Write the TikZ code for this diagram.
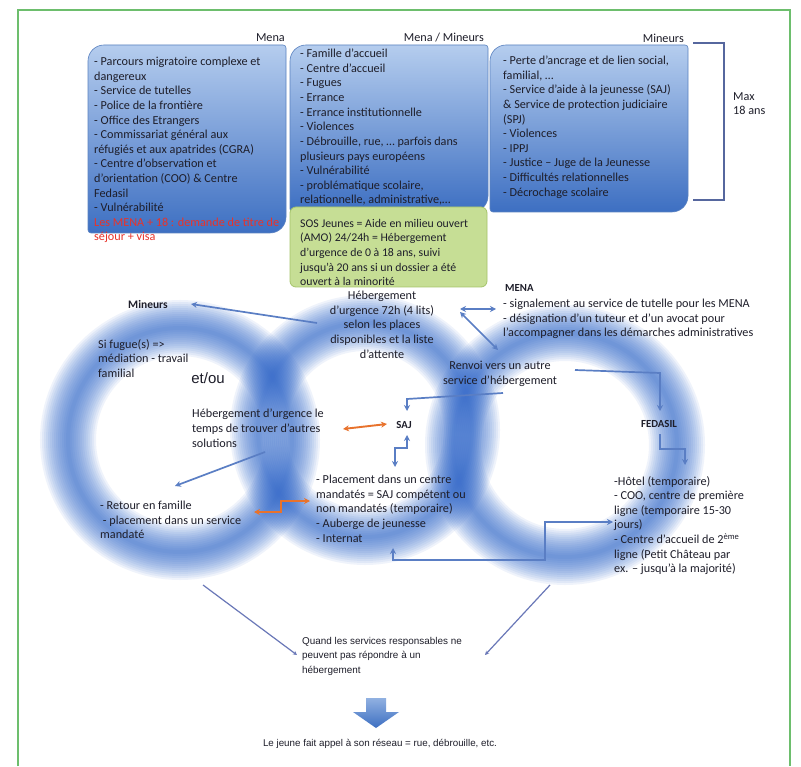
\documentclass[tikz,border=0pt]{standalone}
\usepackage{fontspec}
\setmainfont{Carlito}
\newfontfamily\arialf{Liberation Sans}
\usetikzlibrary{arrows.meta}
\definecolor{framec}{HTML}{6DBE6D}
\definecolor{ringblue}{HTML}{2F66CC}
\definecolor{boxtop}{HTML}{B5CDEE}
\definecolor{boxbot}{HTML}{3D6FC2}
\definecolor{boxline}{HTML}{5A82C0}
\definecolor{greenfill}{HTML}{C6DE95}
\definecolor{greenline}{HTML}{A5C46A}
\definecolor{arrblue}{HTML}{5A7EC4}
\definecolor{arrorange}{HTML}{E8722C}
\definecolor{txtc}{HTML}{1E1E2A}
\definecolor{redtxt}{HTML}{E8332A}
\definecolor{brack}{HTML}{56679E}
\definecolor{thinarr}{HTML}{6A78B8}
\newcommand\myring[3]{%
  \foreach \w in {56,52,...,4}{%
    \draw[line width=\w pt, draw=ringblue, opacity=0.075] (#1,#2) circle[radius=#3pt];}}
\newcommand\dbox[5]{%
  \path[top color=boxtop,bottom color=boxbot,draw=boxline,line width=0.6pt]
    (#1,{(#2+#4)/2}) [rounded corners=16pt] -- (#1,#2) [rounded corners=3pt] -- (#3,#2) [rounded corners=16pt]
    -- (#3,#4) [rounded corners=3pt] -- (#1,#4) -- cycle;
  \coordinate (#5) at ({(#1+#3)/2},{(#2+#4)/2});}
\begin{document}
\begin{tikzpicture}[x=1pt,y=-1pt,
  txt/.style={font=\fontsize{12.2}{14.6}\selectfont, text=txtc, inner sep=0pt, align=left, anchor=north west},
  ctxt/.style={txt, align=center, anchor=north},
  lbl/.style={font=\fontsize{10.8}{14}\selectfont\bfseries, text=txtc, inner sep=0pt},
  hdr/.style={font=\fontsize{12.2}{14}\selectfont, text=txtc, inner sep=0pt, anchor=east},
  bluearr/.style={draw=arrblue, line width=1.7pt, -{Stealth[length=6pt,width=6pt]}},
  bluedbl/.style={draw=arrblue, line width=1.7pt, {Stealth[length=6pt,width=6pt]}-{Stealth[length=6pt,width=6pt]}},
  orangedbl/.style={draw=arrorange, line width=1.9pt, {Stealth[length=6pt,width=6pt]}-{Stealth[length=6pt,width=6pt]}},
  thinarrow/.style={draw=thinarr, line width=1.2pt, -{Stealth[length=4pt,width=4pt]}},
  bigarrow/.style={top color=boxtop!70!boxbot, bottom color=boxbot, draw=none}
]
\useasboundingbox (0,0) rectangle (801,767);
\fill[white] (0,0) rectangle (801,767);
\draw[framec, line width=1.5pt] (18,766) -- (18,10) -- (790,10) -- (790,766);

% rings
\myring{180}{440}{112}
\myring{365}{430}{107}
\myring{565}{445}{112}

% header labels
\node[hdr] (hmena) at (285,38) {Mena};
\node[hdr] (hmm) at (484,38) {Mena / Mineurs};
\node[hdr] (hmin) at (684,38) {Mineurs};

% boxes
\dbox{88}{45}{286}{233}{b1}
\dbox{290}{45}{488}{212}{b2}
\dbox{490}{45}{688}{212}{b3}

\node[txt] (t1) at (94,57) {- Parcours migratoire complexe et\\ dangereux\\ - Service de tutelles\\ - Police de la frontière\\ - Office des Etrangers\\ - Commissariat général aux\\ réfugiés et aux apatrides (CGRA)\\ - Centre d'observation et\\ d'orientation (COO) \& Centre\\ Fedasil\\ - Vulnérabilité\\ \textcolor{redtxt}{Les MENA + 18 : demande de titre de}\\ \textcolor{redtxt}{séjour + visa}};
\node[txt] (t2) at (300,49) {- Famille d'accueil\\ - Centre d'accueil\\ - Fugues\\ - Errance\\ - Errance institutionnelle\\ - Violences\\ - Débrouille, rue, … parfois dans\\ plusieurs pays européens\\ - Vulnérabilité\\ - problématique scolaire,\\ relationnelle, administrative,…};
\node[txt] (t3) at (503,56) {- Perte d'ancrage et de lien social,\\ familial, …\\ - Service d'aide à la jeunesse (SAJ)\\ \& Service de protection judiciaire\\ (SPJ)\\ - Violences\\ - IPPJ\\ - Justice – Juge de la Jeunesse\\ - Difficultés relationnelles\\ - Décrochage scolaire};

% bracket
\coordinate (br1) at (693,43); \coordinate (br2) at (724,43);
\coordinate (br3) at (724,200); \coordinate (br4) at (693,200);
\draw[brack, line width=2pt] (br1) -- (br2) -- (br3) -- (br4);
\node[txt] (max) at (733,92) {Max\\ 18 ans};

% green box
\draw[fill=greenfill, draw=greenline, line width=0.8pt, rounded corners=6pt] (290,207) rectangle (487,287);
\node[txt, font=\fontsize{11.8}{14.6}\selectfont] (sos) at (300,219) {SOS Jeunes = Aide en milieu ouvert\\ (AMO) 24/24h = Hébergement\\ d'urgence de 0 à 18 ans, suivi\\ jusqu'à 20 ans si un dossier a été\\ ouvert à la minorité};

% central texts
\node[ctxt] (heb) at (382,291) {Hébergement\\ d'urgence 72h (4 lits)\\ selon les places\\ disponibles et la liste\\ d'attente};
\node[lbl, font=\fontsize{11.5}{14}\selectfont\bfseries] (mineurs) at (148,305) {Mineurs};
\node[txt] (fugue) at (98,339) {Si fugue(s) =>\\ médiation - travail\\ familial};
\node[inner sep=0pt, font=\arialf\fontsize{15}{17}\selectfont, text=txtc] (etou) at (208,378) {et/ou};
\node[txt] (hebu) at (192,409) {Hébergement d'urgence le\\ temps de trouver d'autres\\ solutions};
\node[lbl] (saj) at (404,425) {SAJ};
\node[lbl, anchor=west] (mena) at (505,288) {MENA};
\node[txt] (menal) at (503,299) {- signalement au service de tutelle pour les MENA\\ - désignation d'un tuteur et d'un avocat pour\\ l'accompagner dans les démarches administratives};
\node[ctxt] (renvoi) at (500,361) {Renvoi vers un autre\\ service d'hébergement};
\node[lbl] (fedasil) at (659,424) {FEDASIL};
\node[txt] (fedl) at (614,476) {-Hôtel (temporaire)\\ - COO, centre de première\\ ligne (temporaire 15-30\\ jours)\\ - Centre d'accueil de 2\textsuperscript{ème}\\ ligne (Petit Château par\\ ex. – jusqu'à la majorité)};
\node[txt] (plac) at (316,475) {- Placement dans un centre\\ mandatés = SAJ compétent ou\\ non mandatés (temporaire)\\ - Auberge de jeunesse\\ - Internat};
\node[txt] (retour) at (100,501) {- Retour en famille\\ \ - placement dans un service\\ mandaté};

% arrows
\coordinate (a1s) at (317,323); \coordinate (a1e) at (191,304);
\draw[bluearr] (a1s) -- (a1e);
\coordinate (a2s) at (460,309); \coordinate (a2e) at (496,309);
\draw[bluedbl] (a2s) -- (a2e);
\coordinate (a3s) at (460,312); \coordinate (a3e) at (498,350);
\draw[bluedbl] (a3s) -- (a3e);
\coordinate (a4s) at (503,393); \coordinate (a4m) at (407,399); \coordinate (a4e) at (407,411);
\draw[bluearr] (a4s) -- (a4m) -- (a4e);
\coordinate (a5s) at (575,370); \coordinate (a5m) at (660,373); \coordinate (a5e) at (660,411);
\draw[bluearr] (a5s) -- (a5m) -- (a5e);
\coordinate (a6s) at (660,434); \coordinate (a6e) at (685,465);
\draw[bluearr] (a6s) -- (660,449) -- (685,449) -- (a6e);
\coordinate (a7s) at (407,435); \coordinate (a7e) at (395,467);
\draw[bluedbl] (a7s) -- (407,448) -- (395,448) -- (a7e);
\coordinate (a8s) at (393,548); \coordinate (a8e) at (613,522);
\draw[bluedbl] (a8s) -- (393,560) -- (545,560) -- (545,522) -- (a8e);
\coordinate (a9s) at (265,452); \coordinate (a9e) at (175,486);
\draw[bluearr] (a9s) -- (a9e);
\coordinate (o1s) at (343,429); \coordinate (o1e) at (387,424);
\draw[orangedbl] (o1s) -- (o1e);
\coordinate (o2s) at (254,512); \coordinate (o2e) at (310,501);
\draw[orangedbl] (o2s) -- (281,512) -- (281,501) -- (o2e);

% bottom
\node[txt, font=\arialf\fontsize{9.9}{14.5}\selectfont] (quand) at (302,637) {Quand les services responsables ne\\ peuvent pas répondre à un\\ hébergement};
\coordinate (l1s) at (203,585); \coordinate (l1e) at (297,655);
\draw[thinarrow] (l1s) -- (l1e);
\coordinate (l2s) at (550,585); \coordinate (l2e) at (485,655);
\draw[thinarrow] (l2s) -- (l2e);
\path[bigarrow] (366,698) -- (386,698) -- (386,712) -- (399,712) -- (376,728) -- (353,712) -- (366,712) -- cycle;
\node[inner sep=0pt, font=\arialf\fontsize{9.8}{11}\selectfont, text=txtc] (jeune) at (380,744) {Le jeune fait appel à son réseau = rue, débrouille, etc.};
\end{tikzpicture}
\end{document}
